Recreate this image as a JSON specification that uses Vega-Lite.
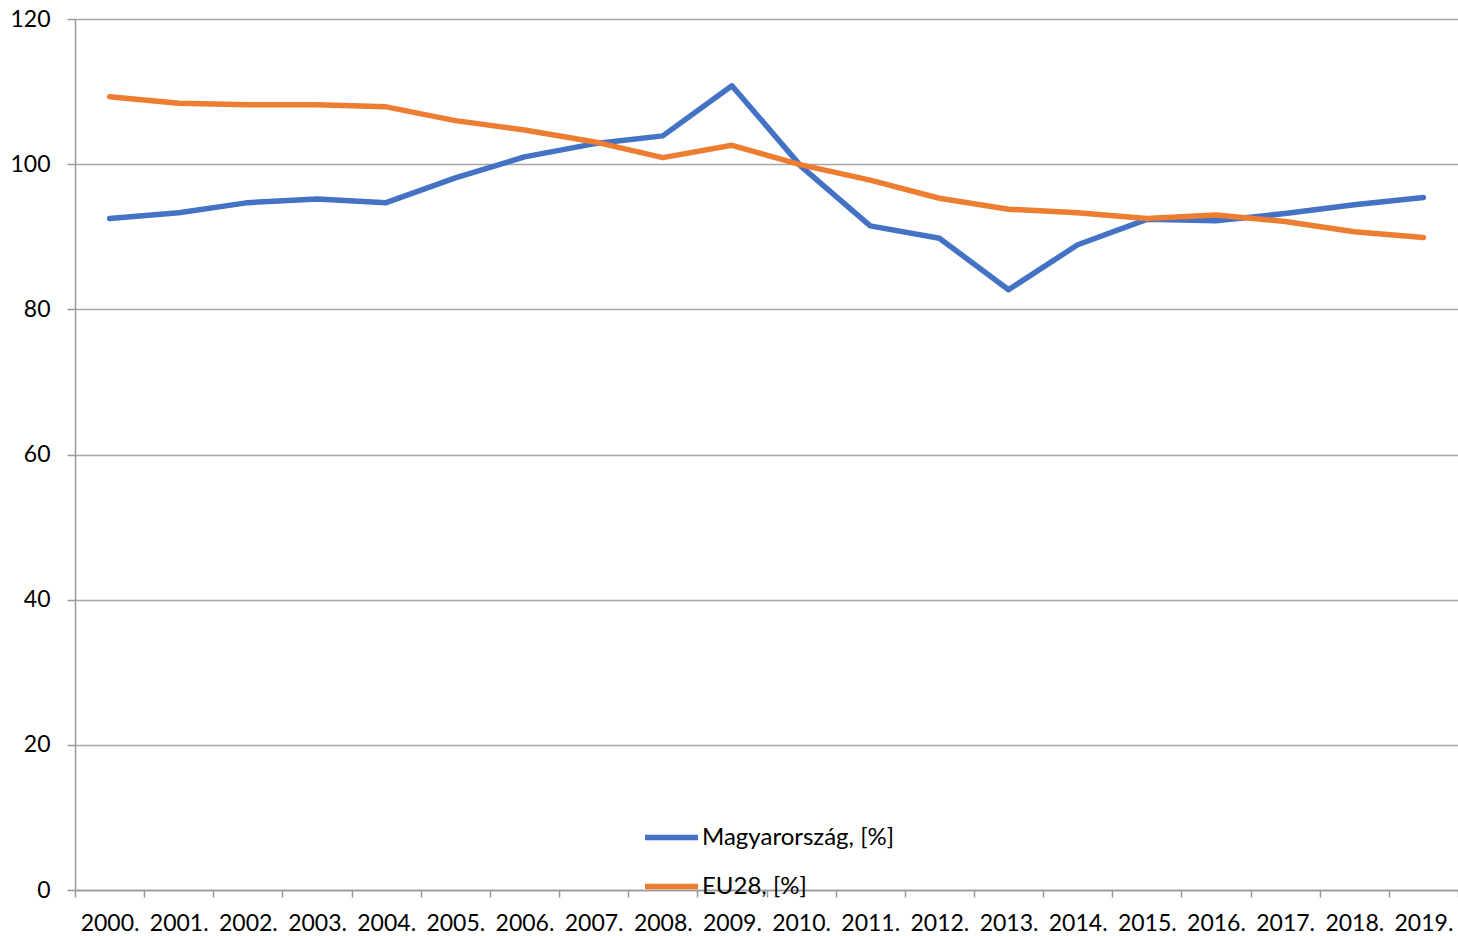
{
  "$schema": "https://vega.github.io/schema/vega-lite/v6.json",
  "width": 1383,
  "height": 871,
  "autosize": {"type": "none"},
  "padding": {"left": 75, "top": 19, "right": 0, "bottom": 46},
  "background": "white",
  "config": {
    "view": {"stroke": null},
    "font": "Lato",
    "axis": {"labelFont": "Lato", "labelFontSize": 23, "labelColor": "#000000", "domainColor": "#999999", "tickColor": "#999999", "gridColor": "#a6a6a6", "domainWidth": 1.5, "tickWidth": 1.5, "gridWidth": 1.5}
  },
  "data": {
    "values": [
      {"year": "2000.", "series": "Magyarország, [%]", "value": 92.5},
      {"year": "2001.", "series": "Magyarország, [%]", "value": 93.3},
      {"year": "2002.", "series": "Magyarország, [%]", "value": 94.7},
      {"year": "2003.", "series": "Magyarország, [%]", "value": 95.2},
      {"year": "2004.", "series": "Magyarország, [%]", "value": 94.7},
      {"year": "2005.", "series": "Magyarország, [%]", "value": 98.1},
      {"year": "2006.", "series": "Magyarország, [%]", "value": 101.0},
      {"year": "2007.", "series": "Magyarország, [%]", "value": 102.8},
      {"year": "2008.", "series": "Magyarország, [%]", "value": 103.9},
      {"year": "2009.", "series": "Magyarország, [%]", "value": 110.8},
      {"year": "2010.", "series": "Magyarország, [%]", "value": 99.7},
      {"year": "2011.", "series": "Magyarország, [%]", "value": 91.5},
      {"year": "2012.", "series": "Magyarország, [%]", "value": 89.8},
      {"year": "2013.", "series": "Magyarország, [%]", "value": 82.7},
      {"year": "2014.", "series": "Magyarország, [%]", "value": 88.9},
      {"year": "2015.", "series": "Magyarország, [%]", "value": 92.4},
      {"year": "2016.", "series": "Magyarország, [%]", "value": 92.2},
      {"year": "2017.", "series": "Magyarország, [%]", "value": 93.2},
      {"year": "2018.", "series": "Magyarország, [%]", "value": 94.4},
      {"year": "2019.", "series": "Magyarország, [%]", "value": 95.4},
      {"year": "2000.", "series": "EU28, [%]", "value": 109.3},
      {"year": "2001.", "series": "EU28, [%]", "value": 108.4},
      {"year": "2002.", "series": "EU28, [%]", "value": 108.2},
      {"year": "2003.", "series": "EU28, [%]", "value": 108.2},
      {"year": "2004.", "series": "EU28, [%]", "value": 107.9},
      {"year": "2005.", "series": "EU28, [%]", "value": 106.0},
      {"year": "2006.", "series": "EU28, [%]", "value": 104.7},
      {"year": "2007.", "series": "EU28, [%]", "value": 103.1},
      {"year": "2008.", "series": "EU28, [%]", "value": 100.9},
      {"year": "2009.", "series": "EU28, [%]", "value": 102.6},
      {"year": "2010.", "series": "EU28, [%]", "value": 99.9},
      {"year": "2011.", "series": "EU28, [%]", "value": 97.8},
      {"year": "2012.", "series": "EU28, [%]", "value": 95.3},
      {"year": "2013.", "series": "EU28, [%]", "value": 93.8},
      {"year": "2014.", "series": "EU28, [%]", "value": 93.3},
      {"year": "2015.", "series": "EU28, [%]", "value": 92.5},
      {"year": "2016.", "series": "EU28, [%]", "value": 93.0},
      {"year": "2017.", "series": "EU28, [%]", "value": 92.1},
      {"year": "2018.", "series": "EU28, [%]", "value": 90.7},
      {"year": "2019.", "series": "EU28, [%]", "value": 89.9}
    ]
  },
  "mark": {"type": "line", "strokeWidth": 5.5, "strokeCap": "round", "strokeJoin": "round"},
  "encoding": {
    "x": {
      "field": "year", "type": "ordinal", "title": null,
      "scale": {"type": "band", "paddingInner": 0, "paddingOuter": 0},
      "axis": {"tickBand": "extent", "labelAngle": 0, "tickSize": 7, "labelPadding": 15, "grid": false, "domainColor": "#999999"}
    },
    "y": {
      "field": "value", "type": "quantitative", "title": null,
      "scale": {"domain": [0, 120], "nice": false, "zero": true},
      "axis": {"values": [0, 20, 40, 60, 80, 100, 120], "tickSize": 8, "labelPadding": 17, "grid": true}
    },
    "color": {
      "field": "series", "type": "nominal",
      "scale": {"domain": ["Magyarország, [%]", "EU28, [%]"], "range": ["#4472C4", "#ED7D31"]},
      "legend": {
        "title": null,
        "orient": "none",
        "legendX": 567,
        "legendY": 789,
        "symbolType": "stroke",
        "symbolSize": 2809,
        "symbolStrokeWidth": 5.5,
        "labelFont": "Lato",
        "labelFontSize": 24,
        "labelColor": "#000000",
        "labelOffset": 1,
        "labelLimit": 0,
        "rowPadding": 7,
        "padding": 0
      }
    }
  }
}
